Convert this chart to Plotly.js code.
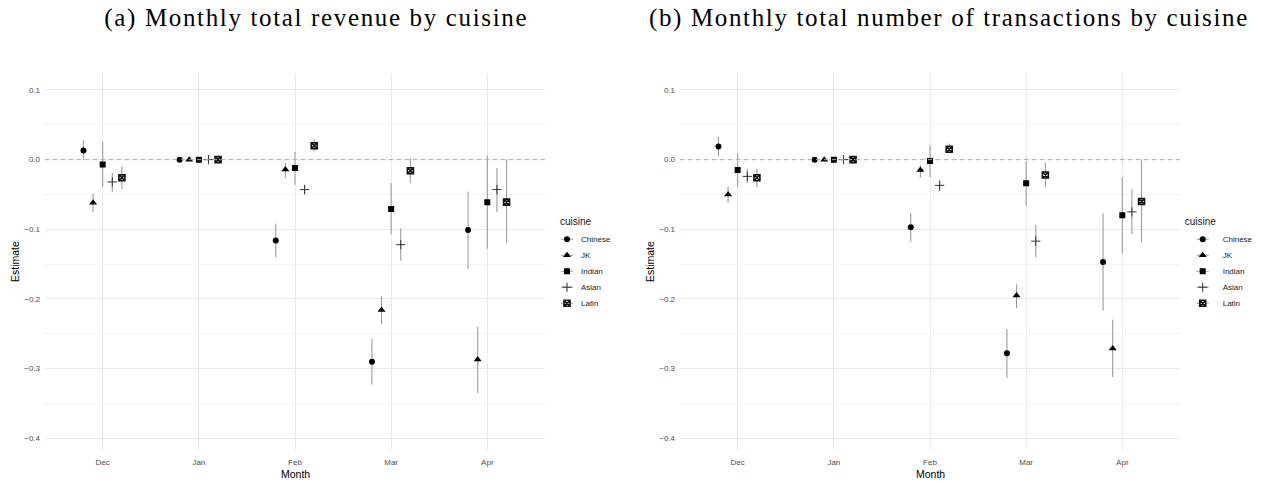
<!DOCTYPE html>
<html>
<head>
<meta charset="utf-8">
<script src="https://cdn.plot.ly/plotly-3.0.1.min.js"></script>
<style>
  html, body { margin: 0; padding: 0; background: #ffffff; }
  #chart { width: 1262px; height: 483px; }
</style>
</head>
<body>
<div id="chart"></div>
<script>
// Month categories and cuisine groups
const months = ['Dec', 'Jan', 'Feb', 'Mar', 'Apr'];
const cuisines = ['Chinese', 'JK', 'Indian', 'Asian', 'Latin'];
const panelTitles = ['(a) Monthly total revenue by cuisine',
                     '(b) Monthly total number of transactions by cuisine'];
const yTicks = [-0.4, -0.3, -0.2, -0.1, 0.0, 0.1];

// (a) revenue: estimates and confidence bounds, one row per cuisine (Dec..Apr)
const revenueEst = [
  [ 0.013, 0, -0.116, -0.290, -0.101],
  [-0.062, 0, -0.014, -0.216, -0.287],
  [-0.007, 0, -0.012, -0.071, -0.061],
  [-0.032, 0, -0.043, -0.122, -0.043],
  [-0.026, 0,  0.020, -0.016, -0.061]
];
const revenueLow = [
  [ 0.000, 0, -0.140, -0.323, -0.157],
  [-0.075, 0, -0.026, -0.236, -0.335],
  [-0.039, 0, -0.036, -0.107, -0.128],
  [-0.046, 0, -0.050, -0.145, -0.075],
  [-0.042, 0,  0.012, -0.034, -0.120]
];
const revenueHigh = [
  [ 0.028, 0, -0.092, -0.257, -0.046],
  [-0.049, 0, -0.005, -0.196, -0.240],
  [ 0.026, 0,  0.011, -0.034,  0.006],
  [-0.019, 0, -0.036, -0.099, -0.012],
  [-0.010, 0,  0.029,  0.002,  0.000]
];

// (b) number of transactions
const txnEst = [
  [ 0.019, 0, -0.097, -0.278, -0.147],
  [-0.050, 0, -0.015, -0.195, -0.271],
  [-0.015, 0, -0.002, -0.034, -0.080],
  [-0.024, 0, -0.037, -0.117, -0.075],
  [-0.026, 0,  0.015, -0.022, -0.060]
];
const txnLow = [
  [ 0.005, 0, -0.118, -0.313, -0.217],
  [-0.062, 0, -0.026, -0.213, -0.312],
  [-0.040, 0, -0.025, -0.066, -0.135],
  [-0.034, 0, -0.045, -0.140, -0.107],
  [-0.040, 0,  0.009, -0.039, -0.118]
];
const txnHigh = [
  [ 0.033, 0, -0.077, -0.243, -0.077],
  [-0.039, 0, -0.008, -0.179, -0.230],
  [ 0.009, 0,  0.021, -0.002, -0.025],
  [-0.013, 0, -0.030, -0.094, -0.043],
  [-0.013, 0,  0.023, -0.004,  0.000]
];

// Marker styling per cuisine
const markerStyles = [
  {symbol: 'circle', size: 6, color: '#000000', line: {width: 0}},
  {symbol: 'triangle-up', size: 7, color: '#000000', line: {width: 0}},
  {symbol: 'square', size: 6, color: '#000000', line: {width: 0}},
  {symbol: 'cross-thin', size: 6.6, color: '#333333', line: {width: 1, color: '#333333'}},
  {symbol: 'square-x-open', size: 6, color: '#111111', line: {width: 1.6, color: '#111111'}}
];
const dodge = 0.1;
const errColor = '#9c9c9c';

const panels = [
  {est: revenueEst, lo: revenueLow, hi: revenueHigh, xa: 'x', ya: 'y', lg: 'legend'},
  {est: txnEst, lo: txnLow, hi: txnHigh, xa: 'x2', ya: 'y2', lg: 'legend2'}
];

const traces = [];
panels.forEach(p => {
  cuisines.forEach((name, c) => {
    const est = p.est[c];
    traces.push({
      type: 'scatter',
      mode: 'markers',
      name: name,
      x: months.map((m, k) => k + 1 + (c - 2) * dodge),
      y: est,
      xaxis: p.xa,
      yaxis: p.ya,
      legend: p.lg,
      marker: markerStyles[c],
      error_y: {
        type: 'data',
        symmetric: false,
        array: est.map((v, k) => p.hi[c][k] - v),
        arrayminus: est.map((v, k) => v - p.lo[c][k]),
        color: errColor,
        thickness: 1.1,
        width: 0
      },
      hoverinfo: 'skip'
    });
  });
});

const gridColor = '#ebebeb';
function xAxis(domain) {
  return {
    domain: domain,
    range: [0.4, 5.6],
    tickmode: 'array',
    tickvals: months.map((m, k) => k + 1),
    ticktext: months,
    showgrid: true, gridcolor: gridColor, gridwidth: 1,
    zeroline: false, showline: false, ticks: '',
    ticklabelstandoff: 6,
    tickfont: {size: 8, color: '#4d4d4d'},
    fixedrange: true
  };
}
function yAxis(domain, anchor) {
  return {
    domain: domain,
    anchor: anchor,
    range: [-0.4168, 0.1248],
    tickmode: 'array',
    tickvals: yTicks,
    tickformat: '.1f',
    showgrid: true, gridcolor: gridColor, gridwidth: 1,
    minor: {dtick: 0.05, tick0: 0.05, showgrid: true, gridcolor: '#f1f1f1', gridwidth: 0.8, ticks: ''},
    zeroline: false, showline: false, ticks: '',
    ticklabelstandoff: 4,
    tickfont: {size: 8, color: '#4d4d4d'},
    fixedrange: true
  };
}

const yDom = [0.0683, 0.8495];
const legendStyle = {
  bgcolor: 'rgba(0,0,0,0)',
  borderwidth: 0,
  font: {size: 8, color: '#1a1a1a'},
  title: {text: 'cuisine', font: {size: 10, color: '#1a1a1a'}},
  xanchor: 'left', yanchor: 'top',
  tracegroupgap: 0
};
const titleFont = {family: 'Liberation Serif, serif', size: 25, color: '#000000'};
const axisTitleFont = {size: 10.5, color: '#000000'};

const layout = {
  width: 1262, height: 483,
  margin: {l: 0, r: 0, t: 0, b: 0},
  paper_bgcolor: '#ffffff', plot_bgcolor: '#ffffff',
  font: {family: 'Liberation Sans, Arial, sans-serif', color: '#1a1a1a'},
  showlegend: true,
  xaxis: Object.assign(xAxis([45 / 1262, 545 / 1262]), {anchor: 'y'}),
  yaxis: yAxis(yDom, 'x'),
  xaxis2: Object.assign(xAxis([680 / 1262, 1180 / 1262]), {anchor: 'y2'}),
  yaxis2: yAxis(yDom, 'x2'),
  legend: Object.assign({x: 547 / 1262, y: 0.5617}, legendStyle),
  legend2: Object.assign({x: 1182.7 / 1262, y: 0.5617}, legendStyle),
  shapes: ['x', 'x2'].map((xa, i) => ({
    type: 'line', xref: xa + ' domain', yref: i === 0 ? 'y' : 'y2',
    x0: 0, x1: 1, y0: 0, y1: 0,
    line: {color: '#ababab', width: 1, dash: '4px,4px'}
  })),
  annotations: [
    {text: panelTitles[0], xref: 'paper', yref: 'paper', x: 316 / 1262, y: 1 - 17.5 / 483,
     xanchor: 'center', yanchor: 'middle', showarrow: false, font: titleFont},
    {text: panelTitles[1], xref: 'paper', yref: 'paper', x: 949 / 1262, y: 1 - 17.5 / 483,
     xanchor: 'center', yanchor: 'middle', showarrow: false, font: titleFont},
    {text: 'Estimate', xref: 'paper', yref: 'paper', x: 15 / 1262, y: 1 - 262 / 483,
     textangle: -90, xanchor: 'center', yanchor: 'middle', showarrow: false, font: axisTitleFont},
    {text: 'Estimate', xref: 'paper', yref: 'paper', x: 650 / 1262, y: 1 - 262 / 483,
     textangle: -90, xanchor: 'center', yanchor: 'middle', showarrow: false, font: axisTitleFont},
    {text: 'Month', xref: 'paper', yref: 'paper', x: 295 / 1262, y: 1 - 474 / 483,
     xanchor: 'center', yanchor: 'middle', showarrow: false, font: axisTitleFont},
    {text: 'Month', xref: 'paper', yref: 'paper', x: 930 / 1262, y: 1 - 474 / 483,
     xanchor: 'center', yanchor: 'middle', showarrow: false, font: axisTitleFont}
  ]
};

// Panel captions are set a little wider.
function widenCaptions(gd) {
  gd.querySelectorAll('g.annotation').forEach(g => {
    const idx = g.getAttribute('data-index');
    if (idx === '0' || idx === '1') {
      const t = g.querySelector('text.annotation-text');
      if (t) t.setAttribute('letter-spacing', '1.65');
    }
  });
}

// Tighten the legend: 16px rows, a grey range line behind each key symbol,
// labels closer to the keys and the title indented.
function tidyLegends(gd) {
  const svgNS = 'http://www.w3.org/2000/svg';
  ['legend', 'legend2'].forEach(cls => {
    const lg = gd.querySelector('g.' + cls);
    if (!lg) return;
    let y0 = null;
    lg.querySelectorAll('g.traces').forEach((item, i) => {
      const m = /translate\(\s*([-\d.]+)[,\s]+([-\d.]+)\s*\)/.exec(item.getAttribute('transform') || '');
      if (m) {
        const x = parseFloat(m[1]), y = parseFloat(m[2]);
        if (y0 === null) y0 = y;
        item.setAttribute('transform', 'translate(' + x + ',' + (y0 + i * 16) + ')');
      }
      const txt = item.querySelector('text.legendtext');
      if (txt) txt.setAttribute('x', 34);
      const syms = item.querySelector('g.legendsymbols');
      if (syms) {
        const key = document.createElementNS(svgNS, 'path');
        key.setAttribute('d', 'M14,0H26');
        key.setAttribute('stroke', errColor);
        key.setAttribute('stroke-width', '1.1');
        key.setAttribute('fill', 'none');
        syms.insertBefore(key, syms.firstChild);
      }
    });
    const ttl = lg.querySelector('text.legendtitletext');
    if (ttl) ttl.setAttribute('transform', 'translate(11,0)');
  });
}

Plotly.newPlot('chart', traces, layout, {displayModeBar: false, staticPlot: true})
  .then(gd => { widenCaptions(gd); tidyLegends(gd); });
</script>
</body>
</html>
